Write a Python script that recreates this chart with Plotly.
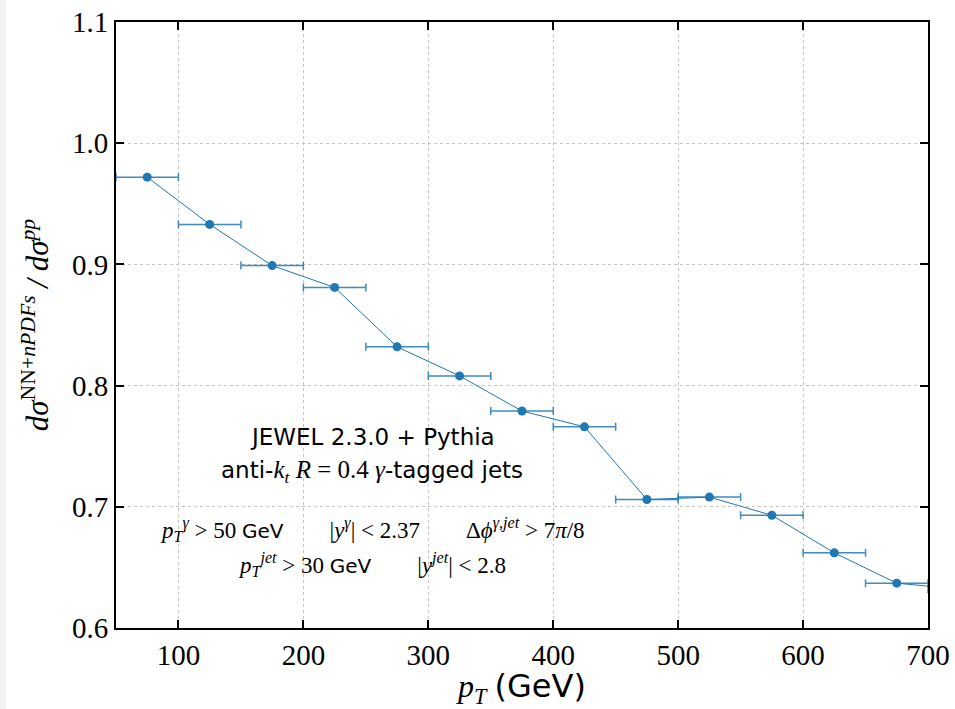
import plotly.graph_objects as go

# Data
pt_centers = [75, 125, 175, 225, 275, 325, 375, 425, 475, 525, 575, 625, 675, 725]
ratio = [0.972, 0.933, 0.899, 0.881, 0.832, 0.808, 0.779, 0.766, 0.706, 0.708, 0.693, 0.662, 0.637, 0.632]
half_bin = [25] * len(pt_centers)

x_ticks = [100, 200, 300, 400, 500, 600, 700]
y_ticks = [0.6, 0.7, 0.8, 0.9, 1.0, 1.1]

BLUE = "#1f77b4"
SERIF = "Liberation Serif"
SANS = "DejaVu Sans"

fig = go.Figure()
fig.add_trace(go.Scatter(
    x=pt_centers, y=ratio, mode="lines+markers",
    line=dict(color=BLUE, width=1),
    marker=dict(color=BLUE, size=9),
    error_x=dict(type="data", array=half_bin, visible=True,
                 color="rgba(31,119,180,0.85)", thickness=1.5, width=4),
    showlegend=False,
))

axis_common = dict(
    showline=True, linecolor="black", linewidth=2, mirror="ticks",
    ticks="inside", ticklen=8, tickwidth=1.5, tickcolor="black",
    showgrid=True, gridcolor="#c4c4c4", griddash="dot", gridwidth=1,
    zeroline=False, automargin=False,
    tickfont=dict(family=SERIF, size=29, color="black"),
)

fig.update_xaxes(range=[50, 700], tickvals=x_ticks, **axis_common,
                 title=dict(text=f"<i>p</i><sub><i>T</i></sub> <span style='font-family:{SANS}'>(GeV)</span>",
                            font=dict(family=SERIF, size=32, color="black"), standoff=7))
fig.update_yaxes(range=[0.6, 1.1], tickvals=y_ticks, tickformat=".1f", **axis_common,
                 title=dict(text="<i>dσ</i><sup>NN+<i>nPDFs</i></sup><i> / dσ</i><sup><i>pp</i></sup>",
                            font=dict(family=SERIF, size=31, color="black"), standoff=14))

sp = "\u2003"
S = f"<span style='font-family:{SANS};font-size:23px'>"
S2 = f"<span style='font-family:{SANS};font-size:20px'>"
ann = [
    (0.7575, f"{S}JEWEL 2.3.0 + Pythia</span>", 24),
    (0.729, f"{S}anti-</span><i>k</i><sub><i>t</i></sub> <i>R</i> = 0.4 <i>γ</i>{S}-tagged jets</span>", 25),
    (0.681, f"<i>p</i><sub><i>T</i></sub><sup><i>γ</i></sup> > 50 {S2}GeV</span>{sp}{sp}|<i>y</i><sup><i>γ</i></sup>| < 2.37{sp}{sp}Δ<i>ϕ</i><sup><i>γ,jet</i></sup> > 7<i>π</i>/8", 23),
    (0.652, f"<i>p</i><sub><i>T</i></sub><sup><i>jet</i></sup> > 30 {S2}GeV</span>{sp}{sp}|<i>y</i><sup><i>jet</i></sup>| < 2.8", 23),
]
for yv, txt, sz in ann:
    fig.add_annotation(x=255, y=yv, xref="x", yref="y", text=txt, showarrow=False,
                       xanchor="center", yanchor="middle",
                       font=dict(family=SERIF, size=sz, color="black"))

# light gray strip on left edge of the image
fig.add_shape(type="rect", xref="paper", yref="paper", x0=-116/812, x1=-110/812, y0=-1, y1=2,
              fillcolor="#f2f2f2", line=dict(width=0), layer="below")

fig.update_layout(
    width=955, height=709,
    margin=dict(l=116, r=27, t=22, b=81),
    paper_bgcolor="white", plot_bgcolor="white",
)

fig.write_html("out.html")
